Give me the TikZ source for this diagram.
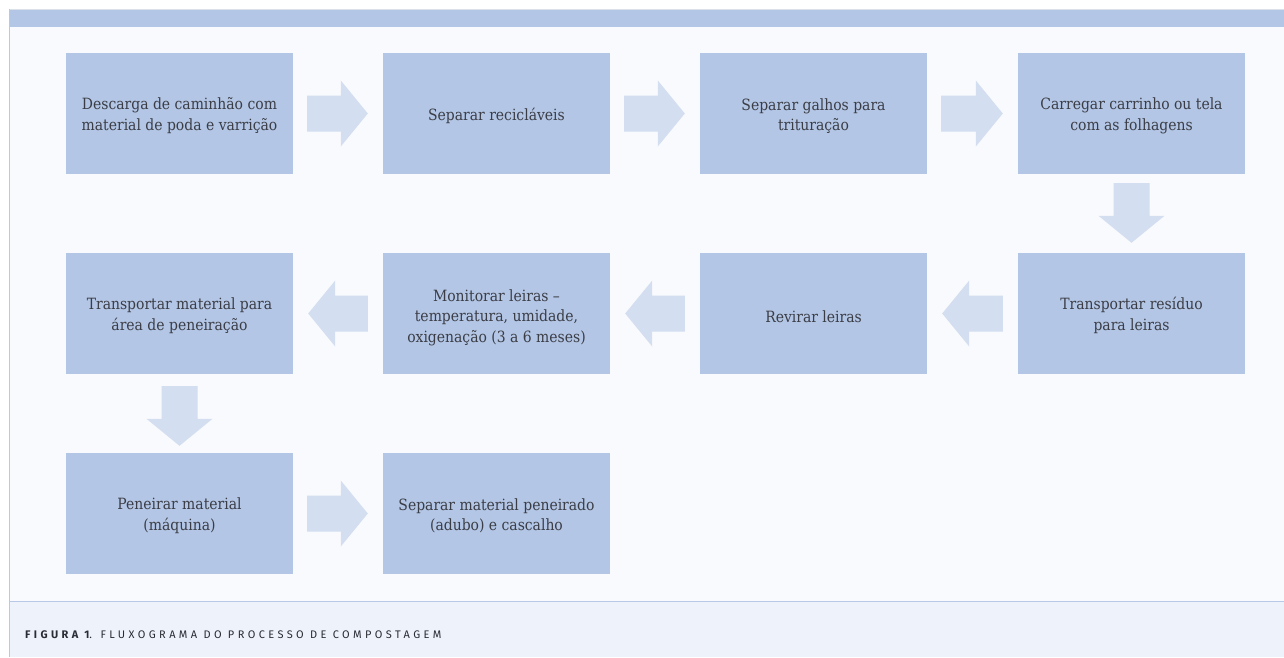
\documentclass[tikz,border=0pt]{standalone}
\usepackage{fontspec}
\setmainfont{DejaVu Serif}[FakeStretch=0.9]
\newfontfamily\capfont{Fira Sans}[LetterSpace=31]
\usetikzlibrary{calc}

\definecolor{boxblue}{HTML}{B3C6E5}
\definecolor{arrowblue}{HTML}{D3DEF0}
\definecolor{panelbg}{HTML}{F9FAFD}
\definecolor{captionbg}{HTML}{EEF2FA}
\definecolor{frameline}{HTML}{B8C8E6}
\definecolor{topline}{HTML}{DCE0E8}
\definecolor{textgray}{HTML}{3B3D46}
\definecolor{captext}{HTML}{2A2C34}

% block arrow from coordinate #1 to coordinate #2
\newcommand\blockflow[2]{%
  \coordinate (hb) at ($(#2)!27pt!(#1)$);
  \fill[flowarrow]
    ($(#1)!18pt!90:(#2)$) -- ($(hb)!18pt!90:(#2)$) -- ($(hb)!33pt!90:(#2)$)
    -- (#2)
    -- ($(hb)!33pt!-90:(#2)$) -- ($(hb)!18pt!-90:(#2)$) -- ($(#1)!18pt!-90:(#2)$)
    -- cycle;%
}

\begin{document}
\begin{tikzpicture}[x=1pt,y=-1pt,
  stepbox/.style={fill=boxblue, minimum width=227pt, minimum height=121pt,
    inner sep=0pt, align=center, text=textgray,
    font=\fontsize{15.5}{20.5}\selectfont,
    execute at begin node={\rule{0pt}{18pt}}},
  twoline/.style={text height=37pt},
  threeline/.style={text height=61pt},
  flowarrow/.style={fill=arrowblue}]

% frame and background
\useasboundingbox (0,0) rectangle (1284,657);
\fill[white] (0,0) rectangle (1284,657);
\fill[panelbg] (9,9) rectangle (1284,657);
\fill[captionbg] (9,601) rectangle (1284,657);
\fill[boxblue] (9,10) rectangle (1284,27);
\draw[topline, line width=0.8pt] (9,9.4) -- (1284,9.4);
\draw[frameline, line width=1pt] (9.5,9) -- (9.5,657);
\draw[frameline, line width=1pt] (9,601) -- (1284,601);

% process steps
\node[stepbox, twoline] (n1) at (179.5,113.5) {Descarga de caminhão com\\material de poda e varrição};
\node[stepbox] (n2) at (496.5,113.5) {Separar recicláveis};
\node[stepbox, twoline] (n3) at (813.5,113.5) {Separar galhos para\\trituração};
\node[stepbox, twoline] (n4) at (1131.5,113.5) {Carregar carrinho ou tela\\com as folhagens};
\node[stepbox, twoline] (n5) at (1131.5,313.5) {Transportar resíduo\\para leiras};
\node[stepbox] (n6) at (813.5,313.5) {Revirar leiras};
\node[stepbox, threeline] (n7) at (496.5,313.5) {Monitorar leiras –\\temperatura, umidade,\\oxigenação (3 a 6 meses)};
\node[stepbox, twoline] (n8) at (179.5,313.5) {Transportar material para\\área de peneiração};
\node[stepbox, twoline] (n9) at (179.5,513.5) {Peneirar material\\(máquina)};
\node[stepbox, twoline] (n10) at (496.5,513.5) {Separar material peneirado\\(adubo) e cascalho};

% arrow end points
\coordinate (s12) at ($(n1.east)+(14,0)$);  \coordinate (e12) at ($(n2.west)+(-15,0)$);
\coordinate (s23) at ($(n2.east)+(14,0)$);  \coordinate (e23) at ($(n3.west)+(-15,0)$);
\coordinate (s34) at ($(n3.east)+(14,0)$);  \coordinate (e34) at ($(n4.west)+(-15,0)$);
\coordinate (s45) at ($(n4.south)+(0,9)$);  \coordinate (e45) at ($(n5.north)+(0,-10)$);
\coordinate (s56) at ($(n5.west)+(-15,0)$); \coordinate (e56) at ($(n6.east)+(15,0)$);
\coordinate (s67) at ($(n6.west)+(-15,0)$); \coordinate (e67) at ($(n7.east)+(15,0)$);
\coordinate (s78) at ($(n7.west)+(-15,0)$); \coordinate (e78) at ($(n8.east)+(15,0)$);
\coordinate (s89) at ($(n8.south)+(0,12)$); \coordinate (e89) at ($(n9.north)+(0,-7)$);
\coordinate (s910) at ($(n9.east)+(14,0)$); \coordinate (e910) at ($(n10.west)+(-15,0)$);

\blockflow{s12}{e12}
\blockflow{s23}{e23}
\blockflow{s34}{e34}
\blockflow{s45}{e45}
\blockflow{s56}{e56}
\blockflow{s67}{e67}
\blockflow{s78}{e78}
\blockflow{s89}{e89}
\blockflow{s910}{e910}

% caption
\node[anchor=base west, inner sep=0pt, text=captext,
  font=\capfont\fontsize{11}{13}\selectfont] (cap) at (25,638)
  {\textbf{FIGURA 1}. FLUXOGRAMA DO PROCESSO DE COMPOSTAGEM};
\end{tikzpicture}
\end{document}
